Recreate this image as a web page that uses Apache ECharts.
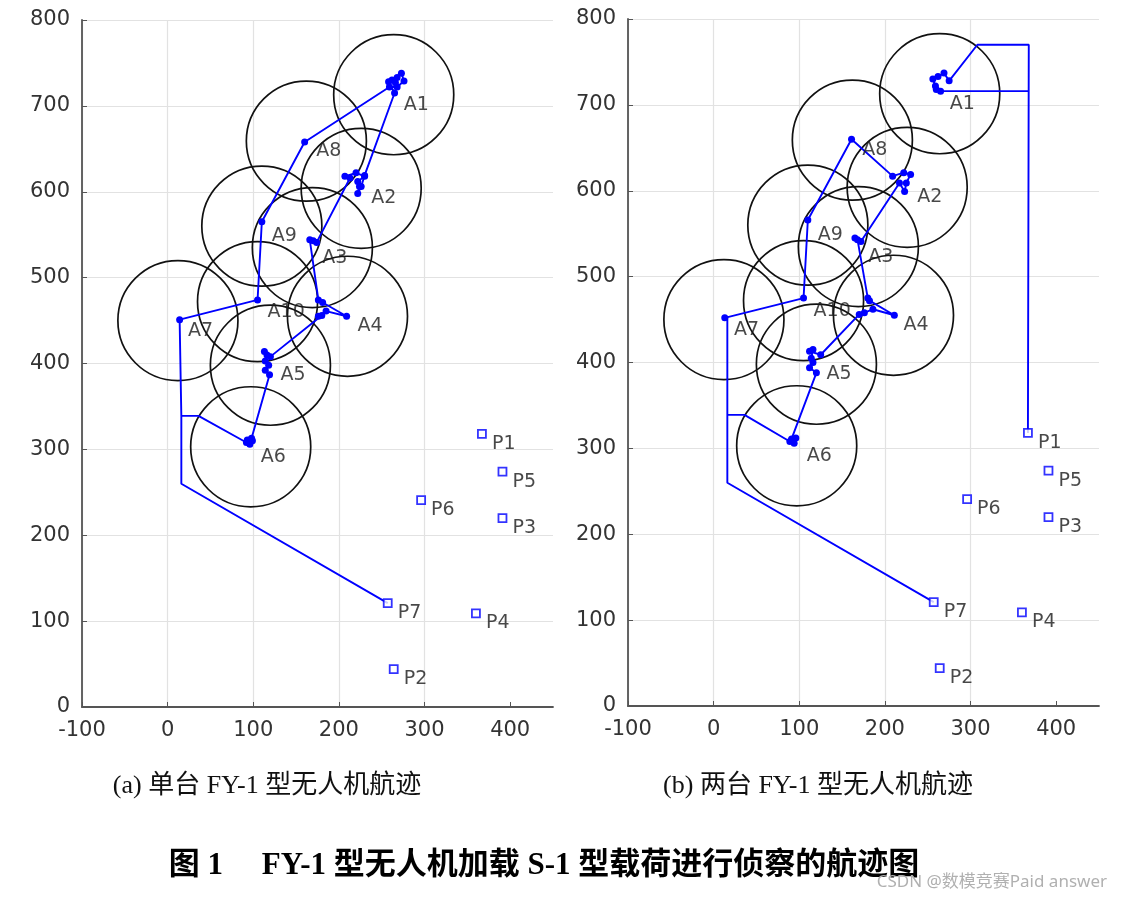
<!DOCTYPE html>
<html><head><meta charset="utf-8">
<script src="https://cdn.jsdelivr.net/npm/echarts@6/dist/echarts.min.js"></script>
<style>html,body{margin:0;padding:0;background:#fff}#c{width:1122px;height:901px}</style>
</head><body><div id="c"></div>
<script>
// ---- data ----
const xTicks = [-100, 0, 100, 200, 300, 400];
const yTicks = [0, 100, 200, 300, 400, 500, 600, 700, 800];
const areaNames = ['A1','A2','A3','A4','A5','A6','A7','A8','A9','A10'];
const areaXY = [[264,713],[226,604],[169,535],[210,455],[120,398],[97,303],[12,450],[162,659],[110,560],[105,472]];
const pointNames = ['P1','P2','P3','P4','P5','P6','P7'];
const pointXY = [[367,318],[264,44],[391,220],[360,109],[391,274],[296,241],[257,121]];
const scanRadius = 70;
// [x, y, waypointFlag]
const pathSingle = [
  [257,121,0],[16,260,0],[16,339,0],[36,339,0],
  [92,308,1],[96,306,1],[99,310,1],[93,311,1],[98,313,1],
  [119,387,1],[114,392,1],[118,398,1],[114,403,1],[116,410,1],[113,414,1],[120,408,1],
  [180,456,1],[176,455,1],[185,461,1],[209,455,1],[181,471,1],[176,474,1],
  [166,544,1],[170,543,1],[174,541,1],
  [213,616,1],[207,618,1],[220,622,1],[230,618,1],[222,612,1],[224,606,1],[222,598,1],[226,606,1],[230,619,1],
  [265,715,1],[258,728,1],[262,730,1],[266,727,1],[268,733,1],[273,738,1],[276,729,1],[268,722,1],[259,722,1],
  [160,658,1],[110,565,1],[105,474,1],[14,451,1],[16,451,0],[16,339,0]
];
const pathDual1 = [
  [257,121,0],[16,260,0],[16,339,0],[36,339,0],
  [89,308,1],[94,306,1],[96,312,1],[91,311,1],
  [120,388,1],[112,394,1],[116,400,1],[114,405,1],[116,415,1],[112,413,1],[125,409,1],
  [170,456,1],[176,458,1],[186,462,1],[211,455,1],[182,472,1],[180,475,1],
  [168,543,1],[165,545,1],[172,541,1],
  [217,609,1],[223,599,1],[225,609,1],[230,619,1],[222,621,1],[209,617,1],
  [161,660,1],[110,566,1],[105,475,1],[13,452,1],[16,452,0],[16,339,0]
];
const pathDual2 = [
  [367,318,0],[368,770,0],[308,770,0],
  [275,728,1],[269,737,1],[262,733,1],[256,730,1],[259,722,1],[260,718,1],[265,716,1],
  [368,716,0]
];

// ---- chart ----
const blue = '#0000ff';
const axisColor = '#555';
function xAxisCfg(gi){
  return {
    type:'value', gridIndex:gi, min:-100, max:450, interval:100,
    axisLine:{show:true, onZero:false, lineStyle:{color:axisColor, width:1.8}},
    axisTick:{show:true, inside:true, length:5, customValues:xTicks, lineStyle:{color:axisColor}},
    axisLabel:{color:'#333', fontSize:21, fontFamily:'DejaVu Sans', margin:13, customValues:xTicks},
    splitLine:{show:true, showMaxLine:false, lineStyle:{color:'#e2e2e2', width:1.2}}
  };
}
function yAxisCfg(gi){
  return {
    type:'value', gridIndex:gi, min:0, max:800, interval:100,
    axisLine:{show:true, onZero:false, lineStyle:{color:axisColor, width:1.8}},
    axisTick:{show:true, inside:true, length:5, lineStyle:{color:axisColor}},
    axisLabel:{color:'#333', fontSize:21, fontFamily:'DejaVu Sans', margin:12},
    splitLine:{show:true, lineStyle:{color:'#e2e2e2', width:1.2}}
  };
}
function circleSeries(gi){
  return {
    type:'custom', xAxisIndex:gi, yAxisIndex:gi, data:areaXY, silent:true, z:2, clip:false,
    renderItem:function(params, api){
      const c = api.coord([api.value(0), api.value(1)]);
      const s = api.size([scanRadius, scanRadius]);
      return {type:'circle', shape:{cx:c[0], cy:c[1], r:(s[0]+s[1])/2},
              style:{fill:'none', stroke:'#111', lineWidth:1.7}};
    }
  };
}
function pathSeries(gi, path){
  return {
    type:'line', xAxisIndex:gi, yAxisIndex:gi, data:path, z:3,
    dimensions:['x','y','f'], encode:{x:'x', y:'y'},
    symbol:'circle', showAllSymbol:true,
    symbolSize:function(v){ return v[2] ? 7 : 0; },
    itemStyle:{color:blue}, lineStyle:{color:blue, width:1.9},
    animation:false, silent:true
  };
}
function pointSeries(gi){
  return {
    type:'scatter', xAxisIndex:gi, yAxisIndex:gi, data:pointXY, z:4,
    symbol:'rect', symbolSize:8,
    itemStyle:{color:'#fff', borderColor:blue, borderWidth:1.8}, silent:true
  };
}
function labelSeries(gi){
  const d = areaXY.map((p,i)=>({name:areaNames[i], value:p}))
    .concat(pointXY.map((p,i)=>({name:pointNames[i], value:p})));
  return {
    type:'scatter', xAxisIndex:gi, yAxisIndex:gi, data:d, z:5, symbolSize:0, silent:true,
    label:{show:true, position:'right', distance:10, offset:[0,10], formatter:'{b}',
           color:'#1a1a1a', fontSize:19, fontFamily:'DejaVu Sans'}
  };
}

const captionFont = 'Liberation Serif, "Noto Sans CJK SC", serif';
const chart = echarts.init(document.getElementById('c'), null, {renderer:'canvas'});
chart.setOption({
  animation:false,
  backgroundColor:'#fff',
  grid:[
    {left:82, top:20, width:471, height:687},
    {left:628, top:19, width:471, height:687}
  ],
  xAxis:[xAxisCfg(0), xAxisCfg(1)],
  yAxis:[yAxisCfg(0), yAxisCfg(1)],
  series:[
    circleSeries(0), pathSeries(0, pathSingle), pointSeries(0), labelSeries(0),
    circleSeries(1), pathSeries(1, pathDual1), pathSeries(1, pathDual2), pointSeries(1), labelSeries(1)
  ],
  graphic:[
    {type:'text', x:267, y:786, style:{text:'(a) 单台 FY-1 型无人机航迹', align:'center', verticalAlign:'middle',
      fontSize:26, fontFamily:captionFont, fill:'#111'}},
    {type:'text', x:818, y:786, style:{text:'(b) 两台 FY-1 型无人机航迹', align:'center', verticalAlign:'middle',
      fontSize:26, fontFamily:captionFont, fill:'#111'}},
    {type:'text', x:544, y:866, style:{text:'图 1\u3000 FY-1 型无人机加载 S-1 型载荷进行侦察的航迹图', align:'center', verticalAlign:'middle',
      fontSize:31, fontWeight:'bold', fontFamily:captionFont, fill:'#000'}},
    {type:'text', x:1107, y:882, style:{text:'CSDN @数模竞赛Paid answer', align:'right', verticalAlign:'middle',
      fontSize:17, fontFamily:'"Noto Sans", "Noto Sans CJK SC", sans-serif', fill:'#b0b0b0'}}
  ]
});
</script></body></html>
